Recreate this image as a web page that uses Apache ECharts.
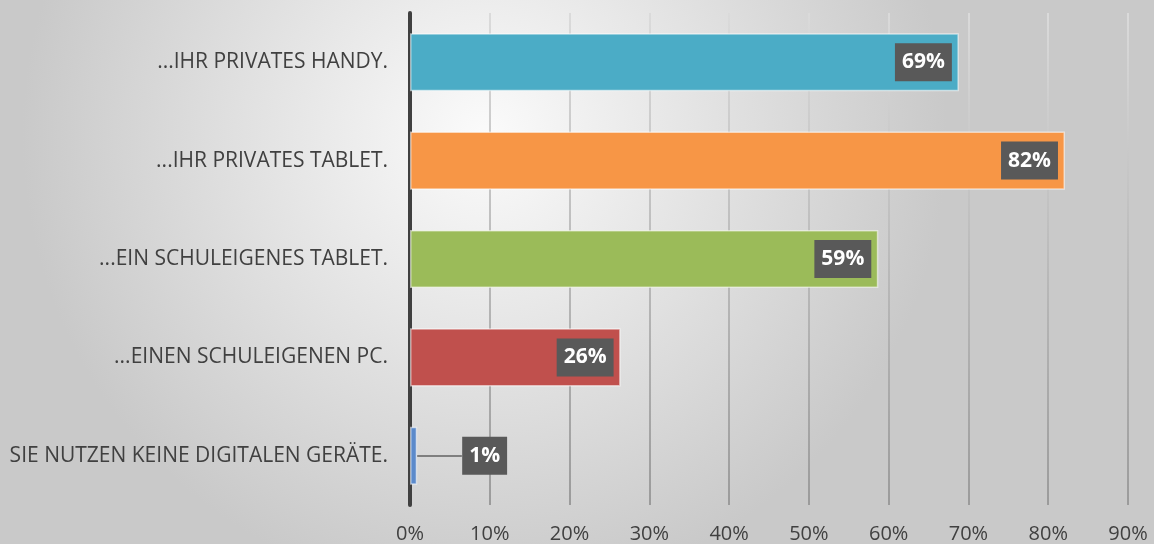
<!DOCTYPE html>
<html><head><meta charset="utf-8">
<script src="https://cdn.jsdelivr.net/npm/echarts@6/dist/echarts.min.js"></script>
<style>html,body{margin:0;padding:0;}#c{width:1154px;height:544px;}</style>
</head><body><div id="c"></div>
<script>
const categories = ['...IHR PRIVATES HANDY.', '...IHR PRIVATES TABLET.', '...EIN SCHULEIGENES TABLET.', '...EINEN SCHULEIGENEN PC.', 'SIE NUTZEN KEINE DIGITALEN GERÄTE.'];
const values = [68.8, 82.1, 58.7, 26.4, 0.9];
const labels = ['69%', '82%', '59%', '26%', '1%'];
const colors = ['#4BACC6', '#F79646', '#9BBB59', '#C0504D', '#5B8ACB'];
const xTicks = [0, 10, 20, 30, 40, 50, 60, 70, 80, 90];
const leaderEnd = 6.5;

const chart = echarts.init(document.getElementById('c'));
const labelBase = {
  show: true,
  backgroundColor: '#595959', color: '#fff', fontFamily: 'Open Sans', fontWeight: 'bold', fontSize: 21,
  padding: [8, 7, 8, 7], lineHeight: 22,
  formatter: p => labels[p.dataIndex]
};
chart.setOption({
  backgroundColor: new echarts.graphic.RadialGradient(0.42, 0.25, 0.85, [
    {offset: 0, color: '#fbfbfb'}, {offset: 1, color: '#c9c9c9'}]),
  animation: false,
  grid: {left: 410, right: 26, top: 13, bottom: 39},
  xAxis: {
    type: 'value', min: 0, max: 90, interval: 10,
    axisLine: {show: false}, axisTick: {show: false},
    axisLabel: {formatter: v => xTicks.includes(v) ? v + '%' : '', fontFamily: 'Open Sans', fontSize: 20, color: '#404040', margin: 19},
    splitLine: {lineStyle: {width: 2, color: new echarts.graphic.LinearGradient(0, 0, 0, 544, [
      {offset: 0, color: '#dcdcdc'}, {offset: 1, color: '#969696'}], true)}}
  },
  yAxis: {
    type: 'category', data: categories, inverse: true,
    axisLine: {lineStyle: {color: '#404040', width: 4}},
    axisTick: {show: false},
    axisLabel: {fontFamily: 'Open Sans', fontSize: 21, color: '#404040', margin: 22}
  },
  series: [{
    type: 'bar', barCategoryGap: '41%',
    data: values.map((v, i) => ({
      value: v, itemStyle: {color: colors[i]},
      label: i === 4 ? {position: 'right', distance: 45} : {position: 'insideRight', distance: 7}
    })),
    itemStyle: {borderColor: 'rgba(255,255,255,0.55)', borderWidth: 1.5},
    label: labelBase,
    markLine: {
      silent: true, symbol: 'none', label: {show: false},
      lineStyle: {color: '#7f7f7f', width: 2, type: 'solid'},
      data: [[{coord: [values[4], categories[4]]}, {coord: [leaderEnd, categories[4]]}]]
    }
  }]
});
</script></body></html>
